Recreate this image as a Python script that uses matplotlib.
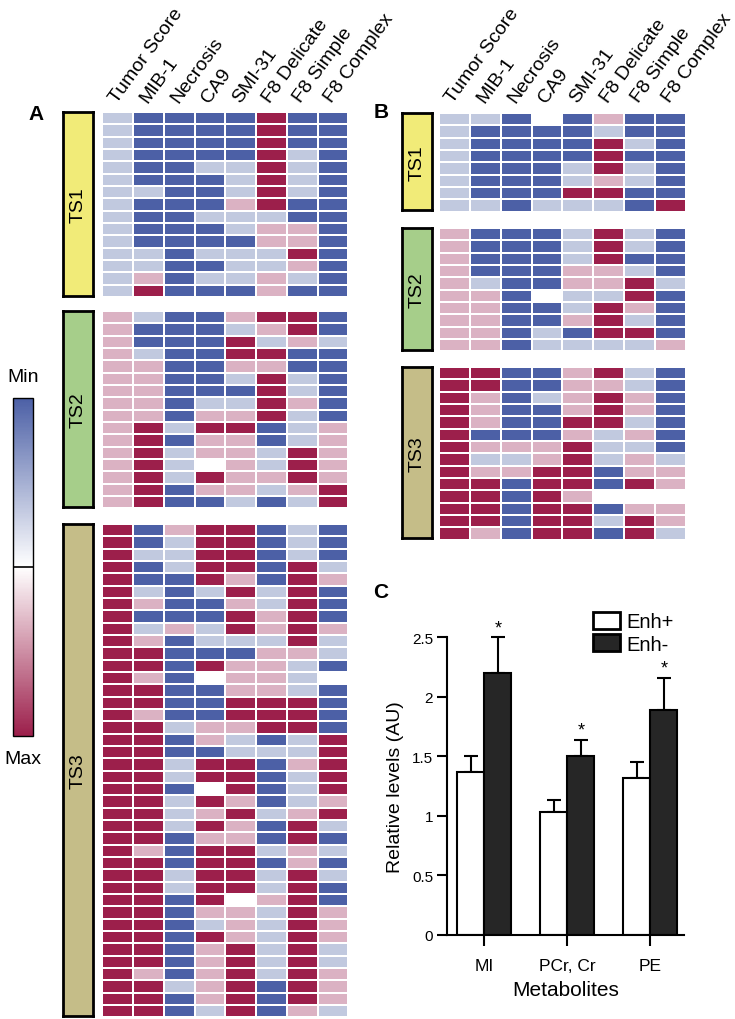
import numpy as np
import matplotlib
matplotlib.use("Agg")
import matplotlib.pyplot as plt
from matplotlib.colors import ListedColormap, LinearSegmentedColormap, Normalize
from matplotlib.cm import ScalarMappable
from matplotlib.patches import Patch

plt.rcParams['font.family'] = ['Liberation Sans', 'DejaVu Sans']

# ---------------- data ----------------
columns = ["Tumor Score", "MIB-1", "Necrosis", "CA9", "SMI-31",
           "F8 Delicate", "F8 Simple", "F8 Complex"]
groups = ["TS1", "TS2", "TS3"]
# levels: 0 = min (dark blue), 1 = light blue, 2 = light pink, 3 = max (crimson), -1 = missing
A_TS1 = [
    [1, 0, 0, 0, 0, 3, 0, 0],
    [1, 0, 0, 0, 0, 3, 0, 0],
    [1, 0, 0, 0, 0, 3, 0, 0],
    [1, 0, 0, 0, 0, 3, 1, 0],
    [1, 0, 0, 1, 1, 3, 1, 0],
    [1, 0, 0, 0, 1, 3, 1, 0],
    [1, 1, 0, 0, 1, 3, 1, 0],
    [1, 0, 0, 0, 2, 3, 0, 0],
    [1, 0, 0, 1, 1, 1, 0, 0],
    [1, 0, 0, 0, 1, 2, 2, 0],
    [1, 0, 0, 0, 0, 2, 2, 0],
    [1, 1, 0, 1, 1, 1, 3, 0],
    [1, 1, 0, 0, 1, 1, 2, 0],
    [1, 2, 0, 1, 1, 2, 1, 0],
    [1, 3, 0, 0, 0, 2, 0, 0],
]
A_TS2 = [
    [2, 1, 0, 0, 2, 3, 3, 0],
    [2, 0, 0, 0, 1, 2, 3, 0],
    [2, 0, 0, 0, 3, 1, 2, 1],
    [2, 1, 0, 0, 3, 3, 0, 0],
    [2, 2, 0, 0, 2, 2, 0, 0],
    [2, 2, 0, 0, 1, 3, 1, 0],
    [2, 2, 0, 0, 0, 3, 1, 0],
    [2, 2, 0, 1, 1, 3, 2, 0],
    [2, 2, 0, 2, 2, 3, 1, 0],
    [2, 3, 1, 3, 3, 0, 1, 2],
    [2, 3, 0, 2, 2, 0, 1, 2],
    [2, 3, 1, 2, 2, 1, 3, 2],
    [2, 3, 1, -1, 2, 1, 3, 2],
    [2, 3, 1, 3, 2, 2, 3, 2],
    [2, 3, 0, 2, 2, 1, 2, 3],
    [2, 3, 0, 0, 1, 0, 1, 3],
]
A_TS3 = [
    [3, 0, 2, 3, 3, 0, 1, 0],
    [3, 0, 1, 3, 3, 0, 1, 0],
    [3, 1, 1, 3, 3, 0, 1, 0],
    [3, 0, 1, 3, 3, 0, 3, 1],
    [3, 0, 0, 3, 2, 0, 3, 2],
    [3, 1, 0, 1, 3, 1, 3, 0],
    [3, 2, 0, 0, 2, 1, 3, 0],
    [3, 0, 0, 0, 3, 2, 3, 0],
    [3, 1, 2, 1, 3, 2, 3, 2],
    [3, 2, 0, 1, 1, 1, 3, 1],
    [3, 3, 0, 0, 0, 2, 2, 1],
    [3, 3, 0, 3, 2, 2, 1, 0],
    [3, 2, 0, -1, 2, 2, 1, -1],
    [3, 3, 0, 0, 2, 2, 1, 0],
    [3, 3, 0, 0, 3, 3, 3, 0],
    [3, 2, 0, 0, 3, 3, 3, 0],
    [3, 3, 1, 2, 2, 3, 3, 0],
    [3, 3, 0, 2, 1, 0, 1, 3],
    [3, 3, 0, 0, 1, 1, 1, 3],
    [3, 3, 1, 3, 3, 0, 2, 3],
    [3, 3, 1, 3, 3, 0, 1, 3],
    [3, 3, 0, -1, 3, 0, 1, 3],
    [3, 3, 1, 3, 2, 0, 1, 2],
    [3, 3, 1, 2, 3, 1, 2, 3],
    [3, 3, 1, 3, 2, 0, 3, 1],
    [3, 3, 0, 2, 2, 0, 3, 0],
    [3, 2, 0, 3, 3, 1, 2, 1],
    [3, 3, 0, 3, 3, 0, 2, 0],
    [3, 3, 1, 3, 3, 1, 3, 1],
    [3, 3, 1, 3, 3, 1, 3, 0],
    [3, 3, 0, 3, -1, 2, 3, 0],
    [3, 3, 0, 2, 2, 1, 3, 2],
    [3, 3, 0, 1, 2, 1, 3, 2],
    [3, 3, 0, 3, 2, 1, 3, 2],
    [3, 3, 0, 2, 3, 1, 3, 1],
    [3, 3, 0, 2, 3, 1, 3, 1],
    [3, 2, 0, 2, 3, 1, 3, 2],
    [3, 3, 1, 2, 3, 0, 3, 2],
    [3, 3, 0, 2, 3, 0, 3, 2],
    [3, 3, 0, 1, 3, 0, 2, 1],
]
B_TS1 = [
    [1, 1, 0, -1, 0, 2, 0, 0],
    [1, 0, 0, 0, 0, 1, 0, 0],
    [1, 0, 0, 0, 0, 3, 1, 0],
    [1, 0, 0, 0, 0, 3, 0, 0],
    [1, 0, 0, 0, 1, 3, 1, 0],
    [1, 0, 0, 0, 1, 2, 1, 0],
    [1, 0, 0, 0, 3, 3, 0, 0],
    [1, 1, 0, 1, 1, 1, 0, 3],
]
B_TS2 = [
    [2, 0, 0, 0, 1, 3, 1, 0],
    [2, 0, 0, 0, 1, 3, 1, 0],
    [2, 0, 0, 0, 1, 3, 0, 0],
    [2, 0, 0, 0, 2, 2, 1, 0],
    [2, 1, 0, 0, 2, 2, 3, 1],
    [2, 2, 0, -1, 1, 1, 3, 0],
    [2, 2, 0, 0, 1, 3, 2, 0],
    [2, 2, 0, 0, 2, 3, 1, 0],
    [2, 2, 0, 1, 0, 3, 3, 0],
    [2, 2, 0, 1, 1, 1, 1, 2],
]
B_TS3 = [
    [3, 3, 0, 0, 2, 3, 1, 0],
    [3, 3, 0, 0, 2, 2, 1, 0],
    [3, 2, 0, 1, 2, 3, 2, 0],
    [3, 2, 0, 0, 2, 3, 2, 0],
    [3, 2, 0, 0, 3, 3, 1, 0],
    [3, 0, 0, 0, 2, 1, 2, 0],
    [3, 2, 2, 2, 3, 1, 1, 0],
    [3, 1, 1, 2, 3, 1, 2, 1],
    [3, 2, 2, 3, 3, 0, 2, 2],
    [3, 3, 0, 3, 3, 0, 3, 2],
    [3, 3, 0, 3, 2, -1, -1, -1],
    [3, 3, 0, 3, 3, 0, 2, 2],
    [3, 3, 0, 3, 3, 1, 3, 2],
    [3, 2, 0, 3, 3, 0, 3, 1],
]

metabolites = ["MI", "PCr, Cr", "PE"]
enh_pos = [1.37, 1.03, 1.32]
enh_pos_err = [0.13, 0.10, 0.13]
enh_neg = [2.20, 1.50, 1.89]
enh_neg_err = [0.30, 0.14, 0.27]
y_ticks = [0, 0.5, 1, 1.5, 2, 2.5]
y_ticklabels = ["0", "0.5", "1", "1.5", "2", "2.5"]

# ---------------- styling ----------------
level_colors = ["#4c60a6", "#c1c9df", "#dbb2c3", "#9c1f4b"]
cell_cmap = ListedColormap(level_colors)
group_colors = {"TS1": "#f1eb78", "TS2": "#a6ce8a", "TS3": "#c5bd88"}

W, H = 735, 1020
fig = plt.figure(figsize=(W / 100, H / 100), dpi=100)


def add_ax(x0, y0, x1, y1):
    return fig.add_axes([x0 / W, 1 - y1 / H, (x1 - x0) / W, (y1 - y0) / H])


def heat(x0, x1, y0, rows, pitch=12.33):
    n = len(rows)
    ax = add_ax(x0, y0, x1, y0 + n * pitch)
    data = np.ma.masked_less(np.array(rows, dtype=float), 0)
    ax.pcolormesh(data, cmap=cell_cmap, vmin=-0.5, vmax=3.5,
                  edgecolors="white", linewidth=1.15)
    ax.set_xlim(0, len(columns))
    ax.set_ylim(n, 0)
    ax.axis("off")
    return ax


def group_box(x0, x1, y0, y1, name):
    ax = add_ax(x0, y0, x1, y1)
    ax.set_facecolor(group_colors[name])
    ax.set_xticks([])
    ax.set_yticks([])
    for s in ax.spines.values():
        s.set_linewidth(2)
        s.set_color("black")
    ax.text(0.5, 0.5, name, rotation=90, ha="center", va="center",
            fontsize=14, transform=ax.transAxes)


def col_labels(x0, x1, ybase):
    pitch = (x1 - x0) / len(columns)
    for i, c in enumerate(columns):
        cx = x0 + (i + 0.5) * pitch
        fig.text((cx - 1) / W, 1 - ybase / H, c, rotation=54,
                 rotation_mode="anchor", ha="left", va="baseline", fontsize=14)


# ---- Panel A ----
ax_x0, ax_x1 = 102.3, 348.3
A_tops = [113, 312, 525]
for rows, top, g in zip([A_TS1, A_TS2, A_TS3], A_tops, groups):
    heat(ax_x0, ax_x1, top, rows)
    group_box(63.3, 93.3, top + 0.3, top + len(rows) * 12.33 - 1.2, g)
col_labels(ax_x0, ax_x1, 104)
fig.text(36 / W, 1 - 114 / H, "A", fontsize=15, fontweight="bold",
         ha="center", va="center")

# ---- Panel B ----
bx_x0, bx_x1 = 438.8, 686.0
B_tops = [114, 229, 368]
for rows, top, g in zip([B_TS1, B_TS2, B_TS3], B_tops, groups):
    heat(bx_x0, bx_x1, top, rows)
    group_box(402, 432, top + 0.3, top + len(rows) * 12.33 - 1.2, g)
col_labels(bx_x0, bx_x1, 104)
fig.text(381 / W, 1 - 112 / H, "B", fontsize=15, fontweight="bold",
         ha="center", va="center")

# ---- colour bar ----
grad_cmap = LinearSegmentedColormap.from_list(
    "grad", [level_colors[3], "#ffffff", level_colors[0]])
cax = add_ax(13.3, 399, 33.3, 737)
cb = fig.colorbar(ScalarMappable(norm=Normalize(0, 1), cmap=grad_cmap), cax=cax)
cb.set_ticks([])
cb.outline.set_linewidth(1.0)
cax.axhline(0.5, color="black", lw=1.2)
fig.text(23 / W, 1 - 378 / H, "Min", fontsize=14, ha="center", va="center")
fig.text(23 / W, 1 - 760 / H, "Max", fontsize=14, ha="center", va="center")

# ---- Panel C ----
axc = add_ax(447.3, 638.3, 684, 935.7)
x = np.arange(len(metabolites))
w = 0.325
axc.bar(x - w / 2, enh_pos, w, color="white", edgecolor="black", lw=1.5,
        label="Enh+", zorder=2)
axc.bar(x + w / 2, enh_neg, w, color="#262626", edgecolor="black", lw=1.5,
        label="Enh-", zorder=2)
axc.errorbar(x - w / 2, enh_pos, yerr=[np.zeros(3), enh_pos_err], fmt="none",
             ecolor="black", elinewidth=1.5, capsize=4.7, capthick=1.5,
             zorder=1, clip_on=False)
axc.errorbar(x + w / 2, enh_neg, yerr=[np.zeros(3), enh_neg_err], fmt="none",
             ecolor="black", elinewidth=1.5, capsize=4.7, capthick=1.5,
             zorder=1, clip_on=False)
for xi, v, e in zip(x, enh_neg, enh_neg_err):
    axc.text(xi + w / 2, v + e + 0.01, "*", ha="center", va="bottom",
             fontsize=13, clip_on=False)
axc.set_xlim(-0.446, 2.406)
axc.set_ylim(0, 2.5)
axc.set_yticks(y_ticks)
axc.set_yticklabels(y_ticklabels, fontsize=11)
axc.set_xticks(x)
axc.set_xticklabels(metabolites, fontsize=12.5)
axc.tick_params(axis="y", direction="out", length=7.2, width=1.5, pad=3)
axc.tick_params(axis="x", direction="out", length=8, width=1.5, pad=9)
for s in ["top", "right"]:
    axc.spines[s].set_visible(False)
for s in ["left", "bottom"]:
    axc.spines[s].set_linewidth(1.5)
axc.set_ylabel("Relative levels (AU)", fontsize=14, labelpad=6)
axc.set_xlabel("Metabolites", fontsize=15, labelpad=5)
handles = [Patch(facecolor="white", edgecolor="black", lw=2, label="Enh+"),
           Patch(facecolor="#262626", edgecolor="black", lw=2, label="Enh-")]
fig.legend(handles=handles, loc="upper left",
           bbox_to_anchor=(592.7 / W, 1 - 613 / H), frameon=False,
           fontsize=14.5, handlelength=1.35, handleheight=0.9,
           handletextpad=0.3, borderpad=0, borderaxespad=0, labelspacing=0.15)
fig.text(381 / W, 1 - 592 / H, "C", fontsize=15, fontweight="bold",
         ha="center", va="center")

fig.savefig("out.png", dpi=100)
